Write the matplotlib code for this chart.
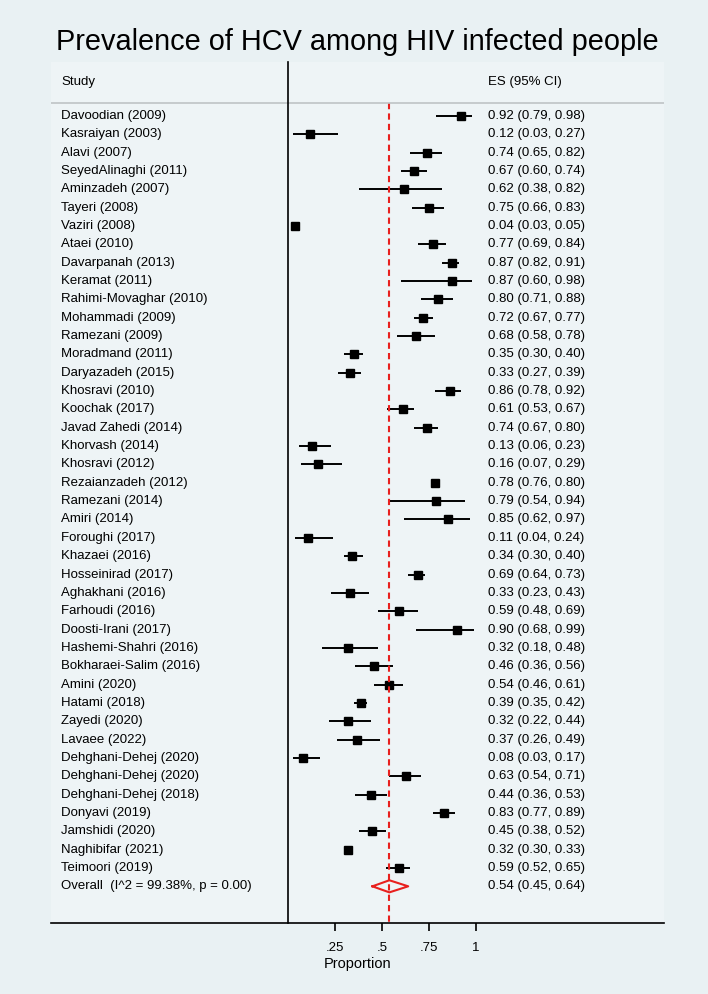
import numpy as np
import matplotlib
matplotlib.use("Agg")
import matplotlib.pyplot as plt

plt.rcParams['font.family'] = ['Liberation Sans', 'DejaVu Sans']

studies = ["Davoodian (2009)", "Kasraiyan (2003)", "Alavi (2007)", "SeyedAlinaghi (2011)",
           "Aminzadeh (2007)", "Tayeri (2008)", "Vaziri (2008)", "Ataei (2010)",
           "Davarpanah (2013)", "Keramat (2011)", "Rahimi-Movaghar (2010)", "Mohammadi (2009)",
           "Ramezani (2009)", "Moradmand (2011)", "Daryazadeh (2015)", "Khosravi (2010)",
           "Koochak (2017)", "Javad Zahedi (2014)", "Khorvash (2014)", "Khosravi (2012)",
           "Rezaianzadeh (2012)", "Ramezani (2014)", "Amiri (2014)", "Foroughi (2017)",
           "Khazaei (2016)", "Hosseinirad (2017)", "Aghakhani (2016)", "Farhoudi (2016)",
           "Doosti-Irani (2017)", "Hashemi-Shahri (2016)", "Bokharaei-Salim (2016)", "Amini (2020)",
           "Hatami (2018)", "Zayedi (2020)", "Lavaee (2022)", "Dehghani-Dehej (2020)",
           "Dehghani-Dehej (2020)", "Dehghani-Dehej (2018)", "Donyavi (2019)", "Jamshidi (2020)",
           "Naghibifar (2021)", "Teimoori (2019)"]
es = [0.92, 0.12, 0.74, 0.67, 0.62, 0.75, 0.04, 0.77, 0.87, 0.87, 0.80, 0.72, 0.68, 0.35,
      0.33, 0.86, 0.61, 0.74, 0.13, 0.16, 0.78, 0.79, 0.85, 0.11, 0.34, 0.69, 0.33, 0.59,
      0.90, 0.32, 0.46, 0.54, 0.39, 0.32, 0.37, 0.08, 0.63, 0.44, 0.83, 0.45, 0.32, 0.59]
lo = [0.79, 0.03, 0.65, 0.60, 0.38, 0.66, 0.03, 0.69, 0.82, 0.60, 0.71, 0.67, 0.58, 0.30,
      0.27, 0.78, 0.53, 0.67, 0.06, 0.07, 0.76, 0.54, 0.62, 0.04, 0.30, 0.64, 0.23, 0.48,
      0.68, 0.18, 0.36, 0.46, 0.35, 0.22, 0.26, 0.03, 0.54, 0.36, 0.77, 0.38, 0.30, 0.52]
hi = [0.98, 0.27, 0.82, 0.74, 0.82, 0.83, 0.05, 0.84, 0.91, 0.98, 0.88, 0.77, 0.78, 0.40,
      0.39, 0.92, 0.67, 0.80, 0.23, 0.29, 0.80, 0.94, 0.97, 0.24, 0.40, 0.73, 0.43, 0.69,
      0.99, 0.48, 0.56, 0.61, 0.42, 0.44, 0.49, 0.17, 0.71, 0.53, 0.89, 0.52, 0.33, 0.65]
overall_es, overall_lo, overall_hi = 0.54, 0.45, 0.64
overall_label = "Overall  (I^2 = 99.38%, p = 0.00)"

bg_outer = '#E9F1F3'
bg_inner = '#EEF4F6'

fig = plt.figure(figsize=(7.08, 9.94), dpi=100, facecolor=bg_outer)
ax = fig.add_axes([51.2 / 708, 1 - 923 / 994, 613.2 / 708, 861.3 / 994], facecolor=bg_inner)

n = len(studies)
rows = np.arange(n)

# study estimates with CIs
ax.hlines(rows, lo, hi, color='black', lw=1.4)
ax.plot(es, rows, 's', color='black', ms=6.3)

# pooled diamond
ax.plot([overall_lo, overall_es, overall_hi, overall_es, overall_lo],
        [n, n - 0.33, n, n + 0.33, n], color='#E8201E', lw=1.5)
ax.plot([overall_es, overall_es], [-0.7, 44], color='#E8201E', lw=1.5, dashes=(3, 2))

# header
ax.axhline(-0.725, color='#BEC3C5', lw=1.2)
ax.text(-1.202, -1.85, "Study", va='center', ha='left', fontsize=9.5)
ax.text(1.065, -1.85, "ES (95% CI)", va='center', ha='left', fontsize=9.5)

for i in range(n):
    ax.text(-1.202, i, studies[i], va='center', ha='left', fontsize=9.5)
    ax.text(1.065, i, f"{es[i]:.2f} ({lo[i]:.2f}, {hi[i]:.2f})", va='center', ha='left', fontsize=9.5)
ax.text(-1.202, n, overall_label, va='center', ha='left', fontsize=9.5)
ax.text(1.065, n, f"{overall_es:.2f} ({overall_lo:.2f}, {overall_hi:.2f})",
        va='center', ha='left', fontsize=9.5)

ax.set_xlim(-1.255, 2.0)
ax.set_ylim(44, -2.96)
ax.spines['top'].set_visible(False)
ax.spines['right'].set_visible(False)
ax.spines['left'].set_position(('data', 0))
ax.spines['left'].set_linewidth(1.2)
ax.spines['bottom'].set_linewidth(1.2)
ax.set_yticks([])
ax.set_xticks([0.25, 0.5, 0.75, 1])
ax.set_xticklabels(['.25', '.5', '.75', '1'])
ax.tick_params(axis='x', length=6, width=1.2, direction='out', labelsize=9.5, pad=8)
ax.set_xlabel('Proportion', fontsize=10.5, labelpad=2)

fig.text(357.5 / 708, 1 - 41.7 / 994, "Prevalence of HCV among HIV infected people",
         ha='center', va='center', fontsize=20.8)

fig.savefig('out.png', dpi=100, facecolor=bg_outer)
